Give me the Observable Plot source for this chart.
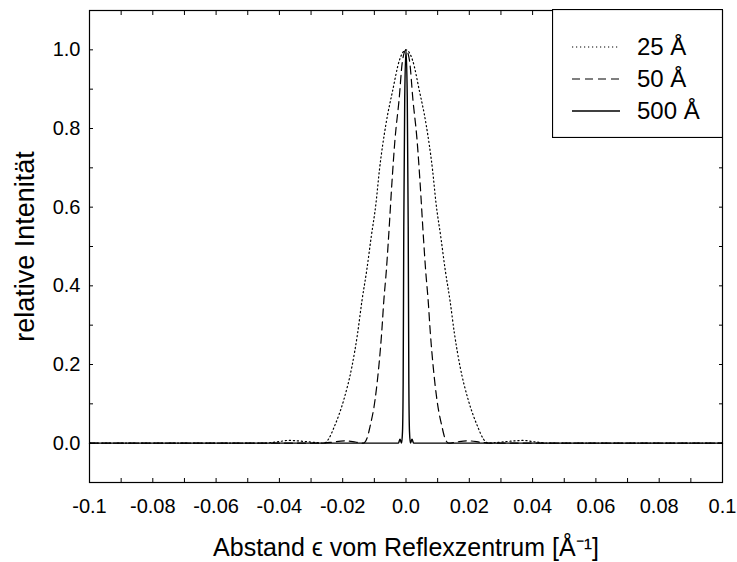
<!DOCTYPE html>
<html>
<head>
<meta charset="utf-8">
<script src="https://cdn.jsdelivr.net/npm/d3@7"></script>
<script src="https://cdn.jsdelivr.net/npm/@observablehq/plot@0.6"></script>
<style>
  html, body { margin: 0; padding: 0; background: #fff; }
  #chart { position: relative; width: 737px; height: 562px; }
  #legend { position: absolute; left: 552px; top: 9px; }
</style>
</head>
<body>
<div id="chart"></div>
<script>
// ---- data ----
const seriesNames = ["25 Å", "50 Å", "500 Å"];
const seriesDash = ["1.2,2.8", "8,5", null];

const eps25 = [-0.1, -0.045, -0.041, -0.037, -0.033, -0.029, -0.0258, -0.0245, -0.0227, -0.0197, -0.0171, -0.0153, -0.0139, -0.0124, -0.0110, -0.0095, -0.0084, -0.0063, -0.0042, -0.0021, 0,
  0.0021, 0.0042, 0.0063, 0.0084, 0.0095, 0.0110, 0.0124, 0.0139, 0.0153, 0.0171, 0.0197, 0.0227, 0.0245, 0.0260, 0.029, 0.033, 0.037, 0.041, 0.045, 0.1];
const int25 = [0, 0, 0.003, 0.007, 0.005, 0.002, 0, 0.010, 0.041, 0.109, 0.194, 0.279, 0.363, 0.440, 0.524, 0.609, 0.694, 0.813, 0.897, 0.973, 1.0,
  0.973, 0.897, 0.813, 0.694, 0.609, 0.524, 0.440, 0.363, 0.279, 0.194, 0.109, 0.041, 0.010, 0, 0.002, 0.005, 0.007, 0.003, 0, 0];

const eps50 = [-0.1, -0.027, -0.024, -0.0195, -0.016, -0.0135, -0.0122, -0.0114, -0.0098, -0.0086, -0.0077, -0.0070, -0.0062, -0.0055, -0.0044, -0.0035, -0.0022, -0.0011, 0,
  0.0011, 0.0022, 0.0035, 0.0044, 0.0055, 0.0062, 0.0070, 0.0077, 0.0086, 0.0098, 0.0114, 0.0122, 0.0135, 0.016, 0.0195, 0.024, 0.027, 0.1];
const int50 = [0, 0, 0.002, 0.006, 0.003, 0, 0.015, 0.041, 0.109, 0.194, 0.279, 0.363, 0.440, 0.524, 0.668, 0.770, 0.872, 0.973, 1.0,
  0.973, 0.872, 0.770, 0.668, 0.524, 0.440, 0.363, 0.279, 0.194, 0.109, 0.041, 0.015, 0, 0.003, 0.006, 0.002, 0, 0];

const eps500 = [-0.1, -0.0024, -0.0019, -0.0014, -0.0011, -0.0009, -0.0007, -0.0004, 0, 0.0004, 0.0007, 0.0009, 0.0011, 0.0014, 0.0019, 0.0024, 0.1];
const int500 = [0, 0, 0.010, 0, 0.03, 0.15, 0.55, 0.88, 1.0, 0.88, 0.55, 0.15, 0.03, 0, 0.010, 0, 0];

const xTickValues = [-0.1, -0.09, -0.08, -0.07, -0.06, -0.05, -0.04, -0.03, -0.02, -0.01, 0, 0.01, 0.02, 0.03, 0.04, 0.05, 0.06, 0.07, 0.08, 0.09, 0.1];
const xTickLabels = ["-0.1", "", "-0.08", "", "-0.06", "", "-0.04", "", "-0.02", "", "0.0", "", "0.02", "", "0.04", "", "0.06", "", "0.08", "", "0.1"];
const yTickValues = [0, 0.1, 0.2, 0.3, 0.4, 0.5, 0.6, 0.7, 0.8, 0.9, 1.0];
const yTickLabels = ["0.0", "", "0.2", "", "0.4", "", "0.6", "", "0.8", "", "1.0"];

const xLabel = "Abstand ϵ vom Reflexzentrum [Å⁻¹]";
const yLabel = "relative Intenität";

// ---- build table ----
const curves = [
  {name: seriesNames[0], eps: eps25, val: int25},
  {name: seriesNames[1], eps: eps50, val: int50},
  {name: seriesNames[2], eps: eps500, val: int500}
];
const rows = curves.map(c => c.eps.map((e, i) => ({name: c.name, eps: e, I: c.val[i]})));

const FONT = "'Liberation Sans', Arial, sans-serif";
const xFmt = d => xTickLabels[xTickValues.findIndex(v => Math.abs(v - d) < 1e-9)] ?? "";
const yFmt = d => yTickLabels[yTickValues.findIndex(v => Math.abs(v - d) < 1e-9)] ?? "";

const lineMarks = rows.map((r, k) => Plot.line(r, {
  x: "eps", y: "I",
  stroke: "#000",
  strokeWidth: k === 2 ? 1.4 : 1.2,
  strokeDasharray: seriesDash[k],
  curve: "monotone-x"
}));

const plot = Plot.plot({
  width: 737,
  height: 562,
  marginLeft: 89,
  marginRight: 15,
  marginTop: 10,
  marginBottom: 80,
  style: {fontFamily: FONT, fontSize: "20px", color: "#000", background: "#fff", overflow: "visible"},
  x: {domain: [-0.1, 0.1]},
  y: {domain: [-0.1, 1.1]},
  marks: [
    ...lineMarks,
    Plot.frame({stroke: "#000", strokeWidth: 1.2}),
    Plot.axisX({anchor: "bottom", ticks: xTickValues, tickFormat: xFmt, tickSize: -4, tickPadding: 20, fontSize: 20, label: null}),
    Plot.axisX({anchor: "top", ticks: xTickValues, tickFormat: () => "", tickSize: -4, label: null}),
    Plot.axisY({anchor: "left", ticks: yTickValues, tickFormat: yFmt, tickSize: -4, tickPadding: 13, fontSize: 20, label: null}),
    Plot.axisY({anchor: "right", ticks: yTickValues, tickFormat: () => "", tickSize: -4, label: null}),
    Plot.text([xLabel], {frameAnchor: "bottom", dy: 73, fontSize: 25, fill: "#000", text: d => d}),
    Plot.text([yLabel], {frameAnchor: "left", dx: -64, rotate: -90, textAnchor: "middle", fontSize: 27, fill: "#000", text: d => d})
  ]
});

const chart = document.getElementById("chart");
chart.appendChild(plot);

// ---- legend (box in the top right corner of the frame) ----
const lg = d3.select(chart).append("svg")
  .attr("id", "legend")
  .attr("width", 171).attr("height", 129)
  .style("font-family", FONT);
lg.append("rect").attr("x", 0.5).attr("y", 0.5).attr("width", 170).attr("height", 128)
  .attr("fill", "#fff").attr("stroke", "#000").attr("stroke-width", 1.2);
seriesNames.forEach((name, k) => {
  const cy = 38 + k * 32;
  lg.append("line").attr("x1", 20).attr("x2", 68).attr("y1", cy).attr("y2", cy)
    .attr("stroke", "#000").attr("stroke-width", k === 2 ? 1.4 : 1.2)
    .attr("stroke-dasharray", seriesDash[k]);
  lg.append("text").attr("x", 85).attr("y", cy).attr("dy", "0.35em")
    .attr("font-size", 24).attr("fill", "#000").text(name);
});
</script>
</body>
</html>
